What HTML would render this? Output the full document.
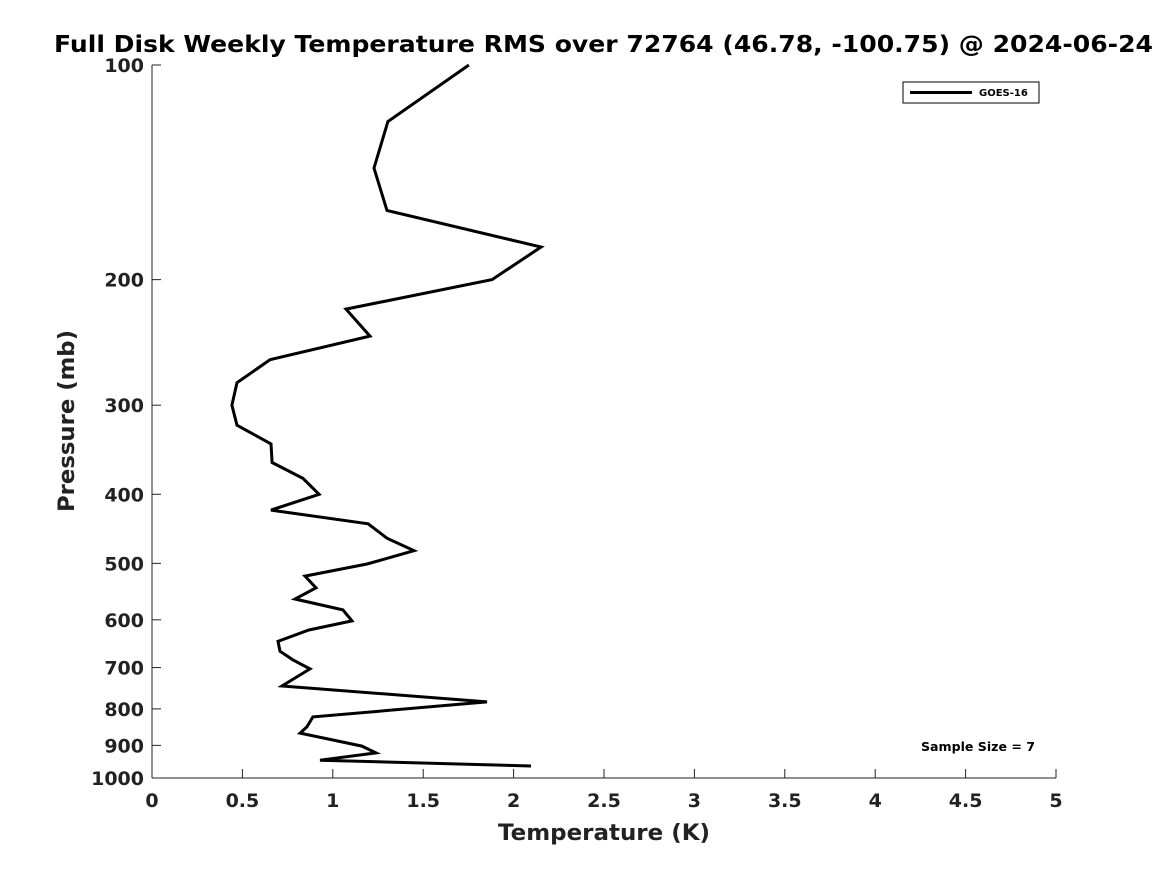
<!DOCTYPE html>
<html><head><meta charset="utf-8"><style>
body{margin:0;background:#fff;}
svg{display:block;font-family:"DejaVu Sans","Liberation Sans",sans-serif;}
</style></head><body>
<svg id="chart" width="1167" height="875">
<text x="54" y="52" font-size="23" font-weight="bold" fill="#000" textLength="1099" lengthAdjust="spacingAndGlyphs">Full Disk Weekly Temperature RMS over 72764 (46.78, -100.75) @ 2024-06-24</text>
<g id="axes"></g>
<g id="series"></g>
<g>
<rect x="903" y="82" width="136" height="21" fill="#fff" stroke="#000" stroke-width="1"/>
<line x1="910" y1="92.5" x2="972" y2="92.5" stroke="#000" stroke-width="3"/>
<text x="979" y="96" font-size="10" font-weight="bold">GOES-16</text>
</g>
<text x="921" y="751" font-size="12" font-weight="bold" textLength="114" lengthAdjust="spacingAndGlyphs">Sample Size = 7</text>
<text x="498" y="840" font-size="22" font-weight="bold" fill="#222" textLength="212" lengthAdjust="spacingAndGlyphs">Temperature (K)</text>
<text transform="translate(74,512) rotate(-90)" font-size="22" font-weight="bold" fill="#222" textLength="182" lengthAdjust="spacingAndGlyphs">Pressure (mb)</text>
</svg>
<script>
const pressures=[100,120,139.5,160,180,200,220,240,259,279,300,320,340,361,380,400,421,440,461,480,501,521,541,561,581,602,620,643,664,683,703,743,782,821,848,865,902,922,944,962];
const temps=[1.753,1.305,1.228,1.300,2.152,1.881,1.073,1.206,0.653,0.470,0.442,0.470,0.658,0.664,0.835,0.924,0.658,1.195,1.300,1.449,1.189,0.846,0.907,0.791,1.056,1.106,0.868,0.697,0.708,0.780,0.874,0.719,1.853,0.890,0.857,0.819,1.161,1.239,0.929,2.096];
const xTicks=[0,0.5,1,1.5,2,2.5,3,3.5,4,4.5,5];
const yTicks=[100,200,300,400,500,600,700,800,900,1000];
const L=152,R=1056,T=65,B=778;
const xs=v=>L+(v-0)/(5-0)*(R-L);
const ys=p=>T+(Math.log10(p)-2)*(B-T);
const NS='http://www.w3.org/2000/svg';
const ax=document.getElementById('axes');
function mk(tag,attrs,parent){const e=document.createElementNS(NS,tag);for(const k in attrs)e.setAttribute(k,attrs[k]);parent.appendChild(e);return e;}
const xa=mk('path',{d:`M${L},${B}H${R}`,stroke:'#222','stroke-width':1,fill:'none'},ax);


const ya=mk('path',{d:`M${L},${T}V${B}`,stroke:'#222','stroke-width':1,fill:'none'},ax);


xTicks.forEach(v=>{const x=xs(v);
 const t=mk('line',{x1:x,y1:B,x2:x,y2:B-9,stroke:'#222'},ax);
 
 
 const l=mk('text',{x:x,y:B+29,'text-anchor':'middle','font-size':19,'font-weight':'bold',fill:'#222'},ax);
 l.textContent=String(v);
 
 });
yTicks.forEach(p=>{const y=ys(p);
 const t=mk('line',{x1:L,y1:y,x2:L+9,y2:y,stroke:'#222'},ax);
 
 
 const l=mk('text',{x:L-8,y:y+7,'text-anchor':'end','font-size':19,'font-weight':'bold',fill:'#222'},ax);
 l.textContent=String(p);
 
 });
const pts=temps.map((t,i)=>xs(t).toFixed(1)+','+ys(pressures[i]).toFixed(1)).join(' ');
const line=mk('polyline',{points:pts,fill:'none',stroke:'#000','stroke-width':3,'stroke-linejoin':'miter'},document.getElementById('series'));


</script>
</body></html>
